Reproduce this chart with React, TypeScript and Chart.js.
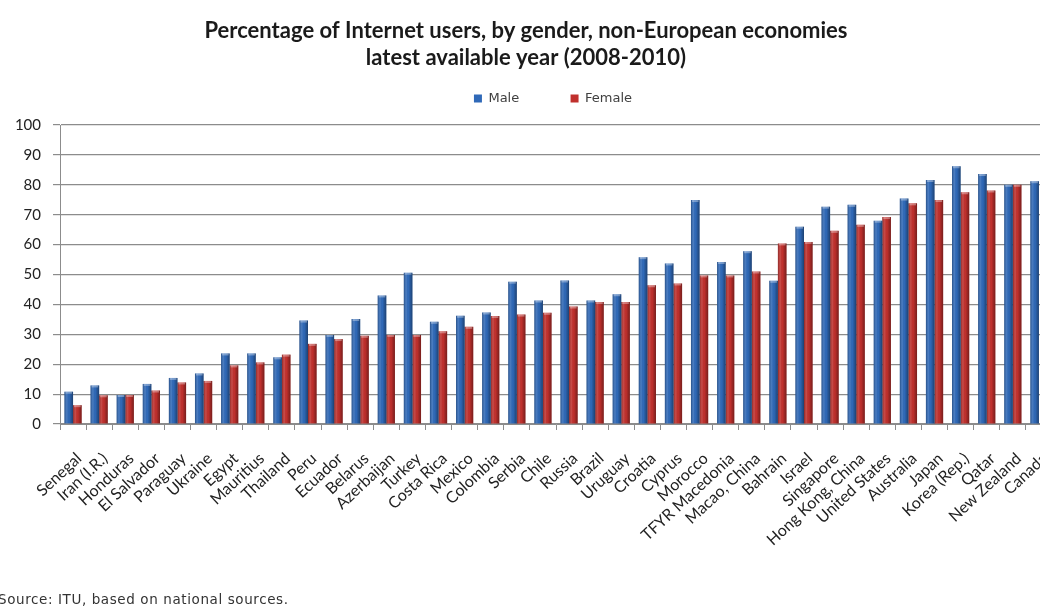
import React, { useEffect, useRef } from "react";
import { Chart, registerables } from "chart.js";

Chart.register(...registerables);

const categories = [
  "Senegal", "Iran (I.R.)", "Honduras", "El Salvador", "Paraguay", "Ukraine",
  "Egypt", "Mauritius", "Thailand", "Peru", "Ecuador", "Belarus", "Azerbaijan",
  "Turkey", "Costa Rica", "Mexico", "Colombia", "Serbia", "Chile", "Russia",
  "Brazil", "Uruguay", "Croatia", "Cyprus", "Morocco", "TFYR Macedonia",
  "Macao, China", "Bahrain", "Israel", "Singapore", "Hong Kong, China",
  "United States", "Australia", "Japan", "Korea (Rep.)", "Qatar",
  "New Zealand", "Canada",
];

const maleValues = [
  10.8, 12.9, 9.7, 13.4, 15.4, 16.9, 23.6, 23.6, 22.3, 34.6, 29.8, 35.1, 43.0,
  50.6, 34.2, 36.2, 37.3, 47.6, 41.3, 48.0, 41.3, 43.4, 55.8, 53.7, 74.9, 54.2,
  57.8, 47.9, 66.0, 72.7, 73.3, 68.0, 75.4, 81.6, 86.2, 83.6, 80.0, 81.2,
];

const femaleValues: (number | null)[] = [
  6.3, 9.6, 9.7, 11.2, 13.9, 14.4, 19.6, 20.6, 23.2, 26.8, 28.4, 29.5, 29.8,
  29.8, 31.0, 32.5, 36.1, 36.6, 37.2, 39.3, 40.8, 40.8, 46.4, 47.0, 49.7, 49.7,
  51.0, 60.4, 60.9, 64.6, 66.6, 69.2, 73.8, 74.9, 77.5, 78.1, 80.0, null,
];

const yTicks = [0, 10, 20, 30, 40, 50, 60, 70, 80, 90, 100];

const titleLines = [
  "Percentage of Internet users, by gender, non-European economies",
  "latest available year (2008-2010)",
];
const seriesNames = ["Male", "Female"];
const sourceNote = "Source: ITU, based on national sources.";

const BLUE = "#2f69b8";
const RED = "#c0302d";

const shadePlugin = {
  id: "barShade",
  afterDatasetsDraw(chart: any) {
    const ctx = chart.ctx;
    chart.data.datasets.forEach((_: any, di: number) => {
      const meta = chart.getDatasetMeta(di);
      meta.data.forEach((bar: any) => {
        if (bar.skip || bar.y == null || isNaN(bar.y)) return;
        const left = bar.x - bar.width / 2;
        const right = bar.x + bar.width / 2;
        const g = ctx.createLinearGradient(left, 0, right, 0);
        g.addColorStop(0, "rgba(0,0,0,0.28)");
        g.addColorStop(0.3, "rgba(255,255,255,0.12)");
        g.addColorStop(0.55, "rgba(0,0,0,0)");
        g.addColorStop(1, "rgba(0,0,0,0.38)");
        ctx.save();
        ctx.fillStyle = g;
        ctx.fillRect(left, bar.y, right - left, bar.base - bar.y);
        ctx.fillStyle = "rgba(255,255,255,0.35)";
        ctx.fillRect(left + 1, bar.y, right - left - 2, 2);
        ctx.restore();
      });
    });
  },
};

// keeps the legend where the reference has it: extra room below, shifted right
const legendPlacePlugin = {
  id: "legendPlace",
  beforeLayout(chart: any) {
    const lg = chart.legend;
    if (lg && !lg.__patched) {
      const orig = lg.fit;
      lg.fit = function () {
        orig.call(this);
        this.height += 10;
      };
      lg.__patched = true;
    }
  },
  afterLayout(chart: any) {
    const lg = chart.legend;
    if (lg) {
      lg.left += 27;
      lg.right += 27;
    }
  },
};

export default function App() {
  const ref = useRef<HTMLCanvasElement | null>(null);

  useEffect(() => {
    if (!ref.current) return;
    const chart = new Chart(ref.current, {
      type: "bar",
      data: {
        labels: categories,
        datasets: [
          {
            label: seriesNames[0],
            data: maleValues,
            backgroundColor: BLUE,
            categoryPercentage: 0.66,
            barPercentage: 1.0,
          },
          {
            label: seriesNames[1],
            data: femaleValues,
            backgroundColor: RED,
            categoryPercentage: 0.66,
            barPercentage: 1.0,
          },
        ],
      },
      plugins: [shadePlugin, legendPlacePlugin],
      options: {
        animation: false,
        responsive: false,
        devicePixelRatio: 1,
        layout: { padding: { left: 0, right: 2, top: 0, bottom: 0 } },
        plugins: {
          title: {
            display: true,
            text: titleLines,
            color: "#1a1a1a",
            font: { family: "Lato", size: 22, weight: "bold", lineHeight: 1.25 },
            padding: { top: 17, bottom: 10 },
          },
          legend: {
            display: true,
            position: "top",
            labels: {
              color: "#404040",
              font: { family: "DejaVu Sans", size: 13 },
              boxWidth: 8,
              boxHeight: 8,
              padding: 10,
              generateLabels(chart: any) {
                const items = Chart.defaults.plugins.legend.labels.generateLabels(chart);
                items.forEach((it: any, i: number) => {
                  it.lineWidth = 0;
                  if (i === 0) it.text = it.text + "\u00a0".repeat(10);
                });
                return items;
              },
            },
          },
          tooltip: { enabled: false },
        },
        scales: {
          x: {
            grid: {
              display: true,
              drawOnChartArea: false,
              drawTicks: true,
              tickLength: 6,
              color: "#8c8c8c",
              offset: true,
            },
            border: { display: true, color: "#8c8c8c" },
            ticks: {
              autoSkip: false,
              minRotation: 43,
              maxRotation: 43,
              padding: 19,
              labelOffset: 6,
              color: "#222",
              font: { family: "Lato", size: 16 },
            },
            afterFit(scale: any) {
              scale.height = 184;
              scale.paddingLeft = 0;
              scale.paddingRight = 0;
            },
          },
          y: {
            min: 0,
            max: 100,
            afterBuildTicks(scale: any) {
              scale.ticks = yTicks.map((v) => ({ value: v }));
            },
            grid: {
              color: "#8c8c8c",
              lineWidth: 1.2,
              drawTicks: true,
              tickLength: 7,
            },
            border: { display: true, color: "#8c8c8c" },
            ticks: {
              padding: 12,
              color: "#222",
              font: { family: "Lato", size: 15 },
            },
            afterFit(scale: any) {
              scale.width = 60;
              scale.paddingTop = 0;
              scale.paddingBottom = 0;
            },
          },
        },
      },
    });
    return () => chart.destroy();
  }, []);

  return (
    <div
      style={{
        position: "fixed",
        left: 0,
        top: 0,
        width: 1040,
        height: 608,
        overflow: "hidden",
        background: "#fff",
      }}
    >
      <canvas ref={ref} width={1054} height={608} style={{ display: "block" }} />
      <div
        style={{
          position: "absolute",
          left: -2,
          top: 591,
          fontFamily: "'DejaVu Sans', sans-serif",
          fontSize: 13.5,
          letterSpacing: "0.6px",
          lineHeight: "17px",
          color: "#333",
          whiteSpace: "nowrap",
        }}
      >
        {sourceNote}
      </div>
    </div>
  );
}
